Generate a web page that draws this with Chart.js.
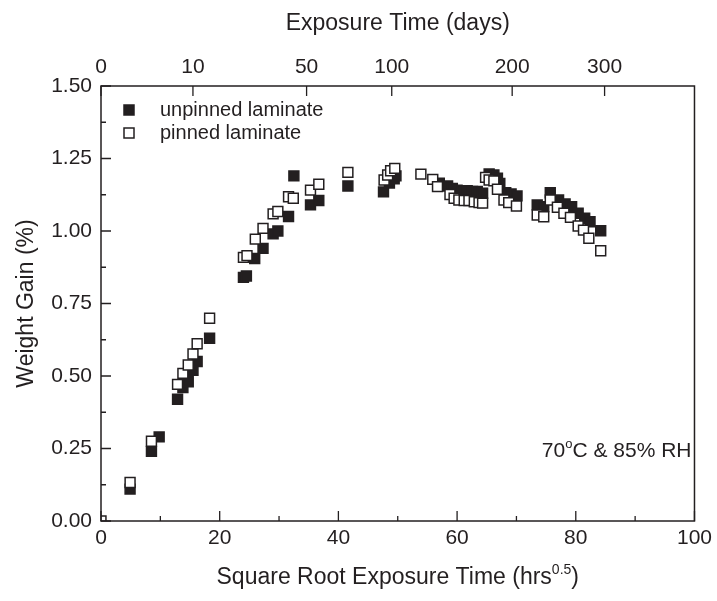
<!DOCTYPE html>
<html>
<head>
<meta charset="utf-8">
<script src="https://cdn.jsdelivr.net/npm/chart.js@4/dist/chart.umd.min.js"></script>
<style>
    html, body { margin: 0; padding: 0; background: #fff; }
    #wrap { width: 717px; height: 601px; }
</style>
</head>
<body>
<div id="wrap"><canvas id="weightChart" width="717" height="601"></canvas></div>
<script>
// ===== DATA =====
const unpinnedX = [4.9, 8.5, 9.8, 12.9, 13.8, 14.7, 15.5, 16.2, 18.3, 24.0, 24.5, 25.9, 27.3, 29.0, 29.8, 31.6, 32.5,
    35.3, 36.7, 41.6, 47.6, 48.6, 49.4, 49.7, 57.0, 58.4, 59.2, 60.0, 60.9, 61.7, 62.6, 63.4, 64.3,
    65.4, 66.2, 66.8, 67.2, 68.2, 69.1, 70.1, 73.5, 74.6, 75.7, 77.1, 78.2, 79.3, 80.4, 81.5, 82.4, 84.2];
const unpinnedY = [0.11, 0.24, 0.29, 0.42, 0.46, 0.48, 0.52, 0.55, 0.63, 0.84, 0.845, 0.905, 0.94, 0.99, 1.00, 1.05, 1.19,
    1.09, 1.105, 1.155, 1.135, 1.165, 1.18, 1.19, 1.165, 1.155, 1.147, 1.141, 1.139, 1.139, 1.136, 1.136, 1.13,
    1.197, 1.193, 1.182, 1.164, 1.132, 1.128, 1.121, 1.09, 1.084, 1.132, 1.107, 1.093, 1.084, 1.061, 1.044, 1.032, 1.001];

const pinnedX = [0, 4.9, 8.5, 12.9, 13.8, 14.7, 15.5, 16.2, 18.3, 24.0, 24.6, 26.0, 27.3, 29.0, 29.8, 31.6, 32.4,
    35.3, 36.7, 41.6, 47.7, 48.3, 48.8, 49.5, 53.9, 55.9, 56.7, 58.8, 59.5, 60.3, 61.2, 62.0, 62.9, 63.7, 64.3,
    64.8, 65.4, 66.2, 66.8, 67.9, 68.7, 70.0, 73.5, 74.6, 75.7, 76.9, 78.0, 79.1, 80.4, 81.3, 82.2, 84.2];
const pinnedY = [0, 0.133, 0.275, 0.471, 0.509, 0.538, 0.576, 0.611, 0.699, 0.909, 0.915, 0.972, 1.009, 1.059, 1.067, 1.118, 1.113,
    1.141, 1.161, 1.202, 1.176, 1.193, 1.208, 1.216, 1.196, 1.178, 1.153, 1.126, 1.113, 1.107, 1.105, 1.105, 1.101, 1.098, 1.096,
    1.185, 1.176, 1.173, 1.144, 1.107, 1.098, 1.086, 1.055, 1.049, 1.107, 1.082, 1.061, 1.047, 1.017, 1.003, 0.975, 0.932];

const seriesLabels = ['unpinned laminate', 'pinned laminate'];
const topDays = [0, 10, 50, 100, 200, 300];   // top axis tick labels (days)
const conditionText = ['70', 'o', 'C & 85% RH'];

const INK = '#231f20';
const FONT = '"Liberation Sans", Arial, sans-serif';

const toPoints = (xs, ys) => xs.map((x, i) => ({ x: x, y: ys[i] }));

// draws text pieces [normal, superscript, normal] starting at x
function drawSup(ctx, parts, x, y, size, supSize, rise) {
    ctx.font = size + 'px ' + FONT;
    ctx.fillText(parts[0], x, y);
    x += ctx.measureText(parts[0]).width;
    ctx.font = supSize + 'px ' + FONT;
    ctx.fillText(parts[1], x, y - rise);
    x += ctx.measureText(parts[1]).width;
    ctx.font = size + 'px ' + FONT;
    ctx.fillText(parts[2], x, y);
}
function supWidth(ctx, parts, size, supSize) {
    ctx.font = size + 'px ' + FONT;
    let w = ctx.measureText(parts[0]).width + ctx.measureText(parts[2]).width;
    ctx.font = supSize + 'px ' + FONT;
    return w + ctx.measureText(parts[1]).width;
}

// frame, inward ticks, titles, legend and annotation
const decorPlugin = {
    id: 'decor',
    afterDraw(chart) {
        const { ctx, chartArea: a } = chart;
        const xs = chart.scales.x, ys = chart.scales.y, xt = chart.scales.xTop;
        ctx.save();
        ctx.strokeStyle = INK;
        ctx.lineWidth = 1.5;
        ctx.strokeRect(a.left, a.top, a.right - a.left, a.bottom - a.top);

        ctx.lineWidth = 1.3;
        ctx.beginPath();
        for (let v = 0; v <= 100; v += 10) {
            const px = xs.getPixelForValue(v);
            const len = v % 20 === 0 ? 10 : 5;
            ctx.moveTo(px, a.bottom); ctx.lineTo(px, a.bottom - len);
        }
        for (let k = 0; k <= 12; k++) {
            const py = ys.getPixelForValue(k * 0.125);
            const len = k % 2 === 0 ? 10 : 5;
            ctx.moveTo(a.left, py); ctx.lineTo(a.left + len, py);
        }
        xt.ticks.forEach(t => {
            const px = xt.getPixelForValue(t.value);
            ctx.moveTo(px, a.top); ctx.lineTo(px, a.top + 10);
        });
        ctx.stroke();

        ctx.fillStyle = INK;
        ctx.textBaseline = 'alphabetic';

        // top title
        ctx.font = '23px ' + FONT;
        ctx.textAlign = 'center';
        ctx.fillText('Exposure Time (days)', (a.left + a.right) / 2, 30);

        // bottom title with superscript
        ctx.textAlign = 'left';
        const tParts = ['Square Root Exposure Time (hrs', '0.5', ')'];
        const tw = supWidth(ctx, tParts, 23, 14);
        drawSup(ctx, tParts, (a.left + a.right) / 2 - tw / 2, 584, 23, 14, 10);

        // y title
        ctx.save();
        ctx.translate(27, (a.top + a.bottom) / 2);
        ctx.rotate(-Math.PI / 2);
        ctx.textAlign = 'center';
        ctx.textBaseline = 'middle';
        ctx.font = '23px ' + FONT;
        ctx.fillText('Weight Gain (%)', 0, 0);
        ctx.restore();

        // condition annotation, right aligned
        const cw = supWidth(ctx, conditionText, 21, 13);
        drawSup(ctx, conditionText, a.right - 3 - cw, 457, 21, 13, 9);

        // legend inside plot
        chart.data.datasets.forEach((ds, i) => {
            const ly = 110 + i * 23;
            ctx.fillStyle = ds.backgroundColor;
            ctx.strokeStyle = ds.borderColor;
            ctx.lineWidth = ds.borderWidth;
            ctx.fillRect(124, ly - 5, 10, 10);
            ctx.strokeRect(124, ly - 5, 10, 10);
            ctx.fillStyle = INK;
            ctx.font = '20px ' + FONT;
            ctx.textBaseline = 'middle';
            ctx.fillText(ds.label, 160, ly);
            ctx.textBaseline = 'alphabetic';
        });
        ctx.restore();
    }
};

const ctx = document.getElementById('weightChart').getContext('2d');
new Chart(ctx, {
    type: 'scatter',
    data: {
        datasets: [{
            label: seriesLabels[0],
            data: toPoints(unpinnedX, unpinnedY),
            backgroundColor: INK,
            borderColor: INK,
            borderWidth: 1.5,
            pointStyle: 'rect',
            pointRadius: 7,
            pointHoverRadius: 7,
            order: 2
        }, {
            label: seriesLabels[1],
            data: toPoints(pinnedX, pinnedY),
            backgroundColor: '#ffffff',
            borderColor: INK,
            borderWidth: 1.5,
            pointStyle: 'rect',
            pointRadius: 7,
            pointHoverRadius: 7,
            clip: 0,
            order: 1
        }]
    },
    options: {
        responsive: false,
        animation: false,
        layout: { padding: { left: 0, right: 21, top: 0, bottom: 0 } },
        plugins: {
            legend: { display: false },
            tooltip: { enabled: false }
        },
        scales: {
            x: {
                type: 'linear',
                position: 'bottom',
                min: 0,
                max: 100,
                grid: { display: false, drawTicks: false },
                border: { display: false },
                ticks: { stepSize: 20, color: INK, font: { family: FONT, size: 21 }, padding: 5 },
                afterFit: (s) => { s.height = 80; }
            },
            xTop: {
                type: 'linear',
                position: 'top',
                min: 0,
                max: 100,
                grid: { display: false, drawTicks: false },
                border: { display: false },
                afterBuildTicks: (s) => { s.ticks = topDays.map(d => ({ value: Math.sqrt(24 * d) })); },
                ticks: {
                    autoSkip: false,
                    maxRotation: 0,
                    color: INK,
                    font: { family: FONT, size: 21 },
                    padding: 6,
                    callback: (v, i) => topDays[i]
                },
                afterFit: (s) => { s.height = 86; }
            },
            y: {
                min: 0,
                max: 1.5,
                grid: { display: false, drawTicks: false },
                border: { display: false },
                ticks: {
                    stepSize: 0.25,
                    color: INK,
                    font: { family: FONT, size: 21 },
                    padding: 9,
                    callback: (v) => v.toFixed(2)
                },
                afterFit: (s) => { s.width = 101; }
            }
        }
    },
    plugins: [decorPlugin]
});
</script>
</body>
</html>
